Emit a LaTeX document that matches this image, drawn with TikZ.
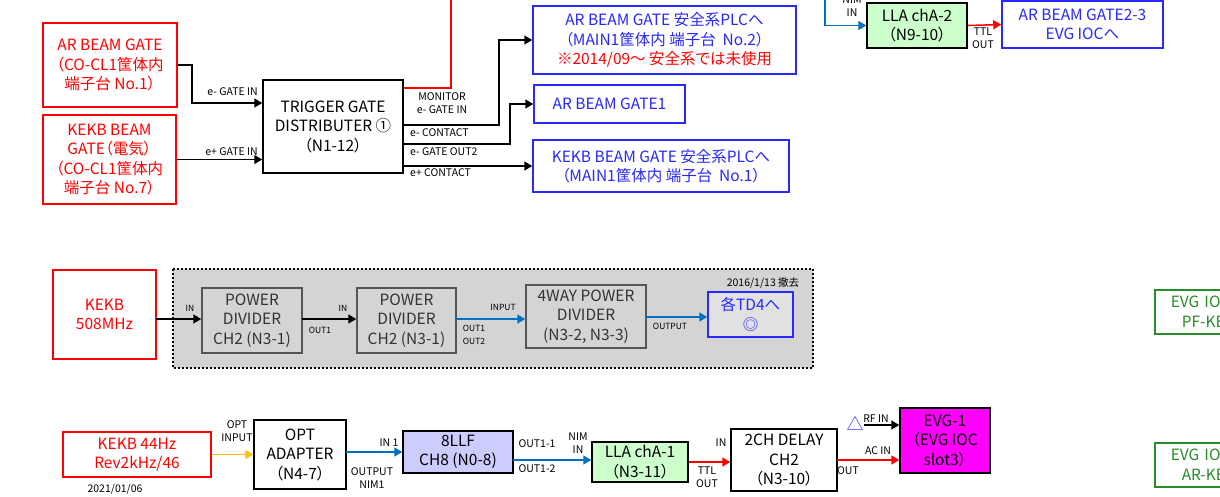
\documentclass[tikz,border=0pt]{standalone}
\usepackage{fontspec}
\setmainfont[RawFeature=+palt]{Noto Sans CJK JP}
\usetikzlibrary{arrows.meta}
\definecolor{bblue}{RGB}{40,40,255}
\definecolor{lblue}{RGB}{0,112,192}
\definecolor{ggreen}{RGB}{40,140,40}
\definecolor{lgreen}{RGB}{204,255,204}
\definecolor{lav}{RGB}{204,204,255}
\definecolor{orng}{RGB}{255,192,0}
\definecolor{regbg}{RGB}{212,212,212}
\definecolor{dgray}{RGB}{85,85,85}
\definecolor{mgnt}{RGB}{255,0,255}
\tikzset{
  box/.style={draw, line width=1.5pt, align=center, inner sep=0pt, font=\fontsize{15.5}{19.5}\selectfont},
  redbox/.style={box, draw=red, text=red},
  bluebox/.style={box, draw=bblue, text=bblue},
  blackbox/.style={box, draw=black, fill=white},
  graybox/.style={box, draw=dgray, fill=regbg, text=black!80},
  greenbox/.style={box, draw=ggreen, text=ggreen},
  lbl/.style={font=\fontsize{10.5}{13}\selectfont, inner sep=0pt, align=center},
  sml/.style={font=\fontsize{8.5}{13}\selectfont, inner sep=0pt, align=center},
  conn/.style={line width=1.5pt},
  arr/.style={conn, -{Triangle[length=8pt,width=9pt]}},
}
\begin{document}
\begin{tikzpicture}[x=1pt,y=-1pt]
\useasboundingbox (0,0) rectangle (1220,496);
\clip (0,0) rectangle (1220,496);
\fill[white] (0,0) rectangle (1220,496);

% ---------- top section ----------
\node[redbox, minimum width=134pt, minimum height=84pt] (arbg) at (110,65)
  {AR BEAM GATE\\（CO-CL1筐体内\\端子台 No.1）};
\node[redbox, minimum width=133pt, minimum height=89pt] (kekbbg) at (109.5,159.5)
  {KEKB BEAM\\GATE（電気）\\（CO-CL1筐体内\\端子台 No.7）};
\node[blackbox, minimum width=140pt, minimum height=93pt] (tgd) at (333,126.5)
  {TRIGGER GATE\\DISTRIBUTER ①\\（N1-12）};
\node[bluebox, minimum width=263pt, minimum height=68pt] (b1) at (664.5,40)
  {AR BEAM GATE 安全系PLCへ\\（MAIN1筐体内 端子台\ \ No.2）\\\textcolor{red}{※2014/09～ 安全系では未使用}};
\node[bluebox, minimum width=151pt, minimum height=38pt] (b2) at (609.5,104)
  {AR BEAM GATE1};
\node[bluebox, minimum width=256pt, minimum height=52pt] (b3) at (661,166)
  {KEKB BEAM GATE 安全系PLCへ\\（MAIN1筐体内 端子台\ \ No.1）};
\node[box, fill=lgreen, minimum width=100pt, minimum height=45pt] (lla2) at (917,25.5)
  {LLA chA-2\\（N9-10）};
\node[bluebox, minimum width=161pt, minimum height=47pt] (ar23) at (1082.5,24.5)
  {AR BEAM GATE2-3\\EVG IOCへ};

\coordinate (c1) at (192,103);
\draw[arr] (arbg.east) -| (c1) -- (c1 -| tgd.west);
\draw[arr] (kekbbg.east) -- (kekbbg.east -| tgd.west);

\coordinate (m1) at (451,88);
\coordinate (m2) at (451,-2);
\draw[conn, red] (m1 -| tgd.east) -- (m1) -- (m2);

\coordinate (o1) at (499,125);
\draw[arr] (o1 -| tgd.east) -- (o1) |- (b1.west);
\coordinate (o2) at (510,144);
\draw[arr] (o2 -| tgd.east) -- (o2) |- (b2.west);
\coordinate (o3) at (510,166);
\draw[arr] (o3 -| tgd.east) -- (b3.west);

\node[lbl, anchor=east] (l1) at (258,92) {e- GATE IN};
\node[lbl, anchor=east] (l2) at (258,152) {e+ GATE IN};
\node[lbl] (l3) at (442,103.5) {MONITOR\\e- GATE IN};
\node[lbl, anchor=west] (l4) at (410,133) {e- CONTACT};
\node[lbl, anchor=west] (l5) at (410,152) {e- GATE OUT2};
\node[lbl, anchor=west] (l6) at (410,173) {e+ CONTACT};

\coordinate (n1) at (825,-2);
\draw[arr, lblue] (n1) |- (lla2.west);
\node[lbl] (l7) at (852,6.5) {NIM\\IN};
\draw[arr, red] (lla2.east) -- (ar23.west);
\node[lbl] (l8) at (983,38.5) {TTL\\OUT};

% ---------- middle section ----------
\node[redbox, minimum width=103pt, minimum height=89pt] (k508) at (104.5,314.5)
  {KEKB\\508MHz};
\draw[line width=1.5pt, dash pattern=on 2pt off 2pt, fill=regbg] (173,269) rectangle (813,368);
\node[graybox, minimum width=100pt, minimum height=65pt] (pd1) at (252,320.5)
  {POWER\\DIVIDER\\CH2 (N3-1)};
\node[graybox, minimum width=99pt, minimum height=65pt] (pd2) at (406.5,320.5)
  {POWER\\DIVIDER\\CH2 (N3-1)};
\node[graybox, minimum width=120pt, minimum height=63pt] (w4) at (586,316.5)
  {4WAY POWER\\DIVIDER\\(N3-2, N3-3)};
\node[box, draw=bblue, text=bblue, fill=regbg!70!white, minimum width=85pt, minimum height=45pt] (td4) at (750.5,314.5)
  {各TD4へ\\◎};
\node[lbl] (l9) at (763,283) {2016/1/13 撤去};

\coordinate (p0) at (156,319);
\draw[arr] (p0) -- (p0 -| pd1.west);
\coordinate (p1) at (302,319);
\draw[arr] (p1) -- (p1 -| pd2.west);
\coordinate (p2) at (456,319);
\draw[arr, lblue] (p2) -- (p2 -| w4.west);
\coordinate (p3) at (646,317);
\draw[arr, lblue] (p3) -- (p3 -| td4.west);

\node[sml] (l10) at (190,308) {IN};
\node[sml] (l11) at (320,330) {OUT1};
\node[sml] (l12) at (343,308) {IN};
\node[sml] (l13) at (503,307) {INPUT};
\node[sml] (l14) at (474,334.5) {OUT1\\OUT2};
\node[sml] (l15) at (670,326) {OUTPUT};

\node[greenbox, anchor=north west, minimum height=44pt, text width=80pt, align=left, inner xsep=16pt] (evgpf) at (1154,289)
  {EVG IOC\\\hspace*{11pt}PF-KEKB};
\node[greenbox, anchor=north west, minimum height=44pt, text width=80pt, align=left, inner xsep=16pt] (evgar) at (1154,442)
  {EVG IOC\\\hspace*{11pt}AR-KEKB};

% ---------- bottom section ----------
\node[redbox, minimum width=148pt, minimum height=45pt] (k44) at (137,454.5)
  {KEKB 44Hz\\Rev2kHz/46};
\node[lbl] (date) at (115,489) {2021/01/06};
\node[blackbox, minimum width=92pt, minimum height=69pt] (opt) at (300,454.5)
  {OPT\\ADAPTER\\（N4-7）};
\node[box, fill=lav, minimum width=110pt, minimum height=42pt] (llf) at (458,452)
  {8LLF\\CH8 (N0-8)};
\node[box, fill=lgreen, minimum width=96pt, minimum height=40pt] (lla1) at (640,462)
  {LLA chA-1\\（N3-11）};
\node[blackbox, minimum width=106pt, minimum height=62pt] (dly) at (784,460)
  {2CH DELAY\\CH2\\（N3-10）};
\node[box, fill=mgnt, minimum width=90pt, minimum height=65pt] (evg) at (945,440.5)
  {EVG-1\\（EVG IOC\\slot3）};
\node[inner sep=0pt, text=bblue, font=\fontsize{17}{17}\selectfont] (tri) at (855,423) {△};

\draw[arr, orng] (k44.east) -- (k44.east -| opt.west);
\coordinate (q1) at (346,452);
\draw[arr, lblue] (q1) -- (q1 -| llf.west);
\coordinate (q2) at (513,460);
\draw[arr, lblue] (q2) -- (q2 -| lla1.west);
\draw[arr, red] (lla1.east) -- (lla1.east -| dly.west);
\coordinate (q3) at (837,460);
\draw[arr, red] (q3) -- (q3 -| evg.west);
\coordinate (q4) at (864,425);
\draw[arr] (q4) -- (q4 -| evg.west);

\node[lbl] (l16) at (237,431.5) {OPT\\INPUT};
\node[lbl] (l17) at (389,443) {IN 1};
\node[lbl] (l18) at (372,478.5) {OUTPUT\\NIM1};
\node[lbl] (l19) at (537,444) {OUT1-1};
\node[lbl] (l20) at (537,469) {OUT1-2};
\node[lbl] (l21) at (578,443.5) {NIM\\IN};
\node[lbl] (l22) at (721,443) {IN};
\node[lbl] (l23) at (707,477.5) {TTL\\OUT};
\node[lbl] (l24) at (876,419) {RF IN};
\node[lbl] (l25) at (878,451) {AC IN};
\node[lbl] (l26) at (848,471) {OUT};
\end{tikzpicture}
\end{document}
